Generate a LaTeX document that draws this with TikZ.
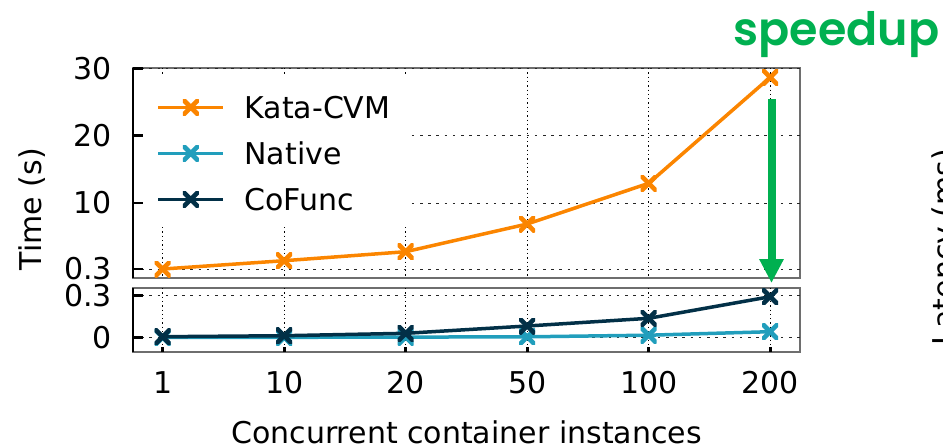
\documentclass[tikz,border=0pt]{standalone}
\usepackage{fontspec}
\setmainfont{DejaVu Sans}
\newfontfamily\headfont{Poppins SemiBold}
\usetikzlibrary{arrows.meta}
\definecolor{kataorange}{HTML}{FB8500}
\definecolor{nativeteal}{HTML}{219EBC}
\definecolor{cofuncnavy}{HTML}{023047}
\definecolor{speedgreen}{HTML}{00B050}
\definecolor{framegray}{HTML}{6E6E6E}
\begin{document}
\begin{tikzpicture}[x=1pt,y=-1pt,
  every node/.style={inner sep=0pt, outer sep=0pt},
  lbl/.style={font=\fontsize{30}{36}\selectfont},
  gridv/.style={black, line width=0.9pt, dash pattern=on 1.3pt off 3pt},
  gridh/.style={black!85, line width=0.9pt, dash pattern=on 2.6pt off 5.6pt},
  panelframe/.style={framegray, line width=2pt},
  tickmk/.style={black, line width=2.8pt},
  dataline/.style={line width=3.5pt, line join=round},
  xmk/.style={minimum size=16pt, path picture={
      \draw[line width=4.6pt, #1]
        (path picture bounding box.north west) -- (path picture bounding box.south east)
        (path picture bounding box.south west) -- (path picture bounding box.north east);}},
]
\useasboundingbox (0,0) rectangle (943,445);
\clip (0,0) rectangle (943,445);

% panel frames
\draw[panelframe] (133,68) rectangle (800,278);
\draw[panelframe] (133,288) rectangle (800,352);

% grid
\foreach \gx in {162.7,284.2,405.7,527.2,648.7,770.2} {
  \draw[gridv] (\gx,68) -- (\gx,278);
  \draw[gridv] (\gx,288) -- (\gx,352);
}
\foreach \gy in {68.3,135.7,203,269,295.3,337.5} {
  \draw[gridh] (133,\gy) -- (800,\gy);
}

% legend background
\fill[white] (140,76) rectangle (407,226);

% data points
\coordinate (k0) at (162.7,269);
\coordinate (k1) at (284.2,260.7);
\coordinate (k2) at (405.7,251.7);
\coordinate (k3) at (527.2,224);
\coordinate (k4) at (648.7,183.3);
\coordinate (k5) at (770.2,77.3);

\coordinate (n0) at (162.7,337.4);
\coordinate (n1) at (284.2,337.3);
\coordinate (n2) at (405.7,337.1);
\coordinate (n3) at (527.2,336.8);
\coordinate (n4) at (648.7,335.2);
\coordinate (n5) at (770.2,331.7);

\coordinate (c0) at (162.7,336.7);
\coordinate (c1) at (284.2,335.7);
\coordinate (c2) at (405.7,333.3);
\coordinate (c3) at (527.2,326);
\coordinate (c4) at (648.7,318.3);
\coordinate (c5) at (770.2,296.7);

% Kata-CVM
\draw[dataline, kataorange] (k0) -- (k1) -- (k2) -- (k3) -- (k4) -- (k5);
\foreach \i in {0,...,5} { \node[xmk=kataorange] (km\i) at (k\i) {}; }
% Native
\draw[dataline, nativeteal] (n0) -- (n1) -- (n2) -- (n3) -- (n4) -- (n5);
\foreach \i in {0,...,5} { \node[xmk=nativeteal] (nm\i) at (n\i) {}; }
% CoFunc
\draw[dataline, cofuncnavy] (c0) -- (c1) -- (c2) -- (c3) -- (c4) -- (c5);
\foreach \i in {0,...,5} { \node[xmk=cofuncnavy] (cm\i) at (c\i) {}; }

% left spines and ticks
\draw[black, line width=2pt] (133,68) -- (133,278);
\draw[black, line width=2pt] (133,288) -- (133,352);
\foreach \ty in {68.3,135.7,203,269,295.3,337.5} {
  \draw[tickmk] (133,\ty) -- (143,\ty);
}
\foreach \gx in {162.7,284.2,405.7,527.2,648.7,770.2} {
  \draw[black, line width=3pt] (\gx,352) -- (\gx,347);
}

% y tick labels
\node[lbl, anchor=east] (yt30) at (112,68.3) {30};
\node[lbl, anchor=east] (yt20) at (112,135.7) {20};
\node[lbl, anchor=east] (yt10) at (112,203) {10};
\node[lbl, anchor=east] (ytu) at (112,269) {0.3};
\node[lbl, anchor=east] (ytl) at (112,295.3) {0.3};
\node[lbl, anchor=east] (yt0) at (112,337.5) {0};

% x tick labels
\node[lbl, anchor=base] (xt1) at (162.7,393.3) {1};
\node[lbl, anchor=base] (xt10) at (284.2,393.3) {10};
\node[lbl, anchor=base] (xt20) at (405.7,393.3) {20};
\node[lbl, anchor=base] (xt50) at (527.2,393.3) {50};
\node[lbl, anchor=base] (xt100) at (648.7,393.3) {100};
\node[lbl, anchor=base] (xt200) at (770.2,393.3) {200};

% axis titles
\node[lbl, anchor=base] (xtitle) at (466.5,443.3) {Concurrent container instances};
\node[lbl, anchor=base, rotate=90] (ytitle) at (41.7,209) {Time (s)};
\node[lbl, anchor=base, rotate=90] (ytitle2) at (954,247) {Latency (ms)};

% legend
\coordinate (lka) at (158.3,107.3); \coordinate (lkb) at (223.3,107.3);
\coordinate (lna) at (158.3,153.3); \coordinate (lnb) at (223.3,153.3);
\coordinate (lca) at (158.3,199.3); \coordinate (lcb) at (223.3,199.3);
\draw[dataline, kataorange] (lka) -- (lkb);
\node[xmk=kataorange] (lkm) at (190.8,107.3) {};
\draw[dataline, nativeteal] (lna) -- (lnb);
\node[xmk=nativeteal] (lnm) at (190.8,153.3) {};
\draw[dataline, cofuncnavy] (lca) -- (lcb);
\node[xmk=cofuncnavy] (lcm) at (190.8,199.3) {};
\node[lbl, anchor=base west] (lkt) at (244.5,118.5) {Kata-CVM};
\node[lbl, anchor=base west] (lnt) at (244.5,164.5) {Native};
\node[lbl, anchor=base west] (lct) at (244.5,210.5) {CoFunc};

% speedup annotation
\coordinate (arrtop) at (771.5,99);
\coordinate (arrtip) at (771.5,283);
\draw[speedgreen, line width=8pt, -{Triangle[length=24pt,width=23pt]}] (arrtop) -- (arrtip);
\node[anchor=base, text=speedgreen, font=\headfont\fontsize{46}{52}\selectfont] (speedup) at (836.5,45) {speedup};
\end{tikzpicture}
\end{document}
